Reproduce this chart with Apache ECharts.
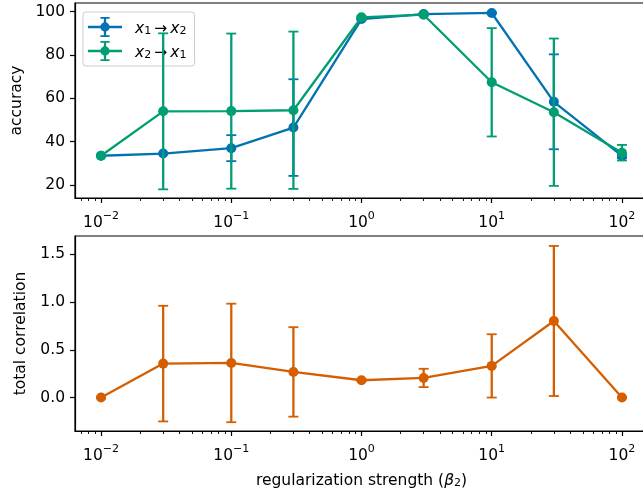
<!DOCTYPE html>
<html>
<head>
<meta charset="utf-8">
<script src="https://cdn.jsdelivr.net/npm/echarts@6/dist/echarts.min.js"></script>
<style>
  html, body { margin: 0; padding: 0; background: #fff; }
  #chart { width: 643px; height: 491px; }
</style>
</head>
<body>
<div id="chart"></div>
<script>
// regularization strength (beta_2)
var beta = [0.01, 0.03, 0.1, 0.3, 1, 3, 10, 30, 100];

// accuracy, x1 -> x2
var accFwd = [33.5, 34.5, 37.0, 46.5, 96.6, 98.9, 99.4, 58.4, 33.4];
var accFwdErr = [0, 0, 6.0, 22.3, 0.4, 0.3, 0.3, 21.9, 1.0];
// accuracy, x2 -> x1
var accBwd = [33.5, 54.0, 54.1, 54.5, 97.4, 98.6, 67.4, 53.6, 34.9];
var accBwdErr = [0, 36.0, 35.8, 36.3, 0.5, 0.5, 25.0, 34.0, 3.6];

// total correlation
var tc = [0.0, 0.355, 0.362, 0.268, 0.181, 0.205, 0.331, 0.801, 0.0];
var tcErr = [0, 0.605, 0.62, 0.468, 0.01, 0.096, 0.331, 0.785, 0];

// ticks
var xMajor = [0.01, 0.1, 1, 10, 100];
var accTicks = [20, 40, 60, 80, 100];
var tcTicks = [0, 0.5, 1.0, 1.5];

var BLUE = '#0173b2', GREEN = '#029e73', ORANGE = '#d55e00';
var FONT = 'DejaVu Sans';
var FS = 15.5;

var xMinor = [];
for (var e = -3; e <= 2; e++) {
  for (var k = 2; k <= 9; k++) xMinor.push(k * Math.pow(10, e));
}

var xMin = Math.pow(10, -2.2), xMax = Math.pow(10, 2.2);

// legend handle: line + marker + error bar with caps (34 x 20 box)
var handleIcon = 'path://M0 8.85H34V11.15H0Z' +
  'M15.85 0.9H18.15V19.1H15.85Z' +
  'M12.4 0H21.6V1.8H12.4Z' +
  'M12.4 18.2H21.6V20H12.4Z' +
  'M21.65 10A4.65 4.65 0 1 1 12.35 10A4.65 4.65 0 1 1 21.65 10Z';

function supLabel(v) {
  var p = Math.round(Math.log10(v));
  return '{b|10}{s|' + (p < 0 ? '\u2212' + (-p) : p) + '}';
}

var tickRich = {
  b: { fontFamily: FONT, fontSize: FS, color: '#000', lineHeight: 20, verticalAlign: 'bottom' },
  s: { fontFamily: FONT, fontSize: 11, color: '#000', lineHeight: 11, verticalAlign: 'top' }
};

function mainX(gi, name) {
  return {
    type: 'log', logBase: 10, gridIndex: gi, min: xMin, max: xMax, position: 'bottom',
    axisLine: { show: true, onZero: false, lineStyle: { color: '#000', width: 1.2 } },
    axisTick: { customValues: xMajor, length: 5, lineStyle: { color: '#000', width: 1.2 } },
    axisLabel: { customValues: xMajor, margin: 13, formatter: supLabel, rich: tickRich },
    splitLine: { show: false },
    name: name || '', nameLocation: 'middle', nameGap: 38,
    nameTextStyle: {
      fontFamily: FONT, fontSize: FS, color: '#000',
      rich: {
        n: { fontFamily: FONT, fontSize: FS, color: '#000', lineHeight: 20, verticalAlign: 'bottom' },
        i: { fontFamily: FONT, fontSize: FS, color: '#000', fontStyle: 'italic', lineHeight: 20, verticalAlign: 'bottom' },
        s: { fontFamily: FONT, fontSize: 11, color: '#000', lineHeight: 11, verticalAlign: 'bottom' }
      }
    }
  };
}

function minorX(gi) {
  return {
    type: 'log', logBase: 10, gridIndex: gi, min: xMin, max: xMax, position: 'bottom', offset: 0,
    axisLine: { show: false, onZero: false },
    axisTick: { customValues: xMinor, length: 3, lineStyle: { color: '#000', width: 0.9 } },
    axisLabel: { show: false },
    splitLine: { show: false }
  };
}

function yAx(gi, min, max, ticks, name, gap, fmt) {
  return {
    type: 'value', gridIndex: gi, min: min, max: max,
    axisLine: { show: true, onZero: false, lineStyle: { color: '#000', width: 1.2 } },
    axisTick: { customValues: ticks, length: 5, lineStyle: { color: '#000', width: 1.2 } },
    axisLabel: { customValues: ticks, margin: 10, fontFamily: FONT, fontSize: FS, color: '#000', formatter: fmt },
    splitLine: { show: false },
    name: name, nameLocation: 'middle', nameGap: gap,
    nameTextStyle: { fontFamily: FONT, fontSize: FS, color: '#000' }
  };
}

function errBars(name, xi, yi, vals, errs, color, z) {
  return {
    type: 'custom', name: name, xAxisIndex: xi, yAxisIndex: yi, z: z, silent: true,
    itemStyle: { color: color },
    encode: { x: 0, y: [1, 2] },
    data: beta.map(function (b, i) { return [b, vals[i] - errs[i], vals[i] + errs[i]]; }),
    renderItem: function (params, api) {
      var x = api.value(0);
      var lo = api.coord([x, api.value(1)]);
      var hi = api.coord([x, api.value(2)]);
      var cw = 5;
      var st = { stroke: color, lineWidth: 2.3 };
      var cs = { stroke: color, lineWidth: 1.8 };
      return {
        type: 'group',
        children: [
          { type: 'line', shape: { x1: lo[0], y1: lo[1], x2: hi[0], y2: hi[1] }, style: st },
          { type: 'line', shape: { x1: lo[0] - cw, y1: lo[1], x2: lo[0] + cw, y2: lo[1] }, style: cs },
          { type: 'line', shape: { x1: hi[0] - cw, y1: hi[1], x2: hi[0] + cw, y2: hi[1] }, style: cs }
        ]
      };
    }
  };
}

function lineSeries(name, xi, yi, vals, color, z) {
  return {
    type: 'line', name: name, xAxisIndex: xi, yAxisIndex: yi, z: z,
    data: beta.map(function (b, i) { return [b, vals[i]]; }),
    symbol: 'circle', symbolSize: 10, showSymbol: true,
    lineStyle: { color: color, width: 2.3 },
    itemStyle: { color: color },
    emphasis: { disabled: true }
  };
}

var legendLabels = {
  'x1\u2192x2': '{i|x}{s|1}{a|\u2009\u2192\u2009}{i|x}{s|2}',
  'x2\u2192x1': '{i|x}{s|2}{a|\u2009\u2192\u2009}{i|x}{s|1}'
};

var chart = echarts.init(document.getElementById('chart'), null, { renderer: 'canvas' });
chart.setOption({
  animation: false,
  backgroundColor: '#fff',
  grid: [
    { left: 75, top: 3, width: 573, height: 195, outerBoundsMode: 'none', show: true, borderColor: '#000', borderWidth: 1.2, backgroundColor: '#fff' },
    { left: 75, top: 236, width: 573, height: 195, outerBoundsMode: 'none', show: true, borderColor: '#000', borderWidth: 1.2, backgroundColor: '#fff' }
  ],
  xAxis: [mainX(0), minorX(0), mainX(1, '{n|regularization strength (}{i|\u03b2}{s|2}{n|)}'), minorX(1)],
  yAxis: [
    yAx(0, 14, 104, accTicks, 'accuracy', 50, function (v) { return String(v); }),
    yAx(1, -0.35, 1.69, tcTicks, 'total correlation', 42, function (v) { return v.toFixed(1); })
  ],
  legend: {
    data: [
      { name: 'x1\u2192x2', icon: handleIcon },
      { name: 'x2\u2192x1', icon: handleIcon }
    ],
    orient: 'vertical', left: 83, top: 12,
    padding: [5, 8, 5, 5],
    itemWidth: 34, itemHeight: 20, itemGap: 4,
    backgroundColor: 'rgba(255,255,255,0.8)',
    borderColor: '#cccccc', borderWidth: 1, borderRadius: 3,
    itemStyle: { borderWidth: 0 },
    selectedMode: false,
    formatter: function (name) { return legendLabels[name]; },
    textStyle: {
      fontFamily: FONT, fontSize: FS, color: '#000', padding: [0, 0, 0, 8],
      rich: {
        i: { fontFamily: FONT, fontSize: FS, fontStyle: 'italic', color: '#000', lineHeight: 20, verticalAlign: 'bottom' },
        a: { fontFamily: FONT, fontSize: FS, color: '#000', lineHeight: 20, verticalAlign: 'bottom' },
        s: { fontFamily: FONT, fontSize: 11, color: '#000', lineHeight: 11, verticalAlign: 'bottom' }
      }
    }
  },
  series: [
    errBars('x1\u2192x2', 0, 0, accFwd, accFwdErr, BLUE, 2),
    lineSeries('fwd', 0, 0, accFwd, BLUE, 3),
    errBars('x2\u2192x1', 0, 0, accBwd, accBwdErr, GREEN, 4),
    lineSeries('bwd', 0, 0, accBwd, GREEN, 5),
    errBars('tc err', 2, 1, tc, tcErr, ORANGE, 2),
    lineSeries('tc', 2, 1, tc, ORANGE, 3)
  ]
});
</script>
</body>
</html>
